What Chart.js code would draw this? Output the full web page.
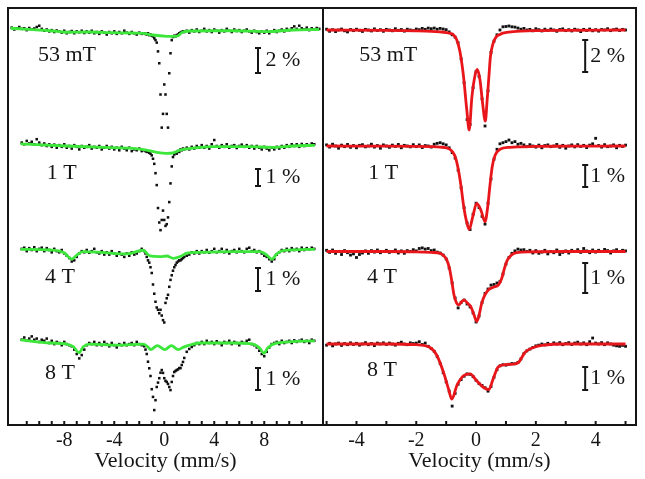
<!DOCTYPE html>
<html lang="en">
<head>
  <meta charset="UTF-8" />
  <title>Mössbauer spectra</title>
  <style>
    body { margin: 0; background: #fff; }
    .wrap { position: relative; width: 645px; height: 479px; }
    .panel { position: absolute; top: 0; height: 479px; }
    #left { left: 0; width: 330px; }
    #right { left: 316px; width: 329px; }
  </style>
  <script src="https://cdn.jsdelivr.net/npm/chart.js"></script>
</head>
<body>
  <div class="wrap">
    <div class="panel" id="left"><canvas id="chartLeft"></canvas></div>
    <div class="panel" id="right"><canvas id="chartRight"></canvas></div>
  </div>
  <script>
    // field labels and scale bars (%)
    const fields = ["53 mT", "1 T", "4 T", "8 T"];
    const barPct = [2, 1, 1, 1];

    // axis ticks
    const ticksL = [-11,-10,-9,-8,-7,-6,-5,-4,-3,-2,-1,0,1,2,3,4,5,6,7,8,9,10,11];
    const labelsL = [-8, -4, 0, 4, 8];
    const ticksR = [-5,-4,-3,-2,-1,0,1,2,3,4,5];
    const labelsR = [-4, -2, 0, 2, 4];

    // ---- left panel: wide velocity range (mm/s), relative transmission (%) ----
    const velL = [
      -12.2,-12,-11.8,-11.6,-11.4,-11.2,-11,-10.8,-10.6,-10.4,-10.2,-10,
      -9.8,-9.6,-9.4,-9.2,-9,-8.8,-8.6,-8.4,-8.2,-8,-7.8,-7.6,
      -7.4,-7.2,-7,-6.8,-6.6,-6.4,-6.2,-6,-5.8,-5.6,-5.4,-5.2,
      -5,-4.8,-4.6,-4.4,-4.2,-4,-3.8,-3.6,-3.4,-3.2,-3,-2.8,
      -2.6,-2.4,-2.2,-2,-1.8,-1.6,
      -1.5,-1.4,-1.3,-1.2,-1.1,-1,-0.9,-0.8,-0.7,-0.6,-0.5,-0.4,-0.3,-0.2,-0.1,0,
      0.1,0.2,0.3,0.4,0.5,0.6,0.7,0.8,0.9,1,1.1,1.2,1.3,1.4,1.5,
      1.6,1.8,2,2.2,2.4,2.6,2.8,3,3.2,3.4,3.6,3.8,
      4,4.2,4.4,4.6,4.8,5,5.2,5.4,5.6,5.8,6,6.2,
      6.4,6.6,6.8,7,7.2,7.4,7.6,7.8,8,8.2,8.4,8.6,
      8.8,9,9.2,9.4,9.6,9.8,10,10.2,10.4,10.6,10.8,11,
      11.2,11.4,11.6,11.8,12,12.2,12.4
    ];
    const l53 = [
      0.15,0,0.1,0.2,0.05,0.1,-0.05,0.12,0,0.08,0.2,0.3,
      0.05,-0.1,0,-0.15,-0.05,-0.2,-0.08,-0.15,-0.25,-0.1,-0.3,-0.2,
      -0.12,-0.3,-0.15,-0.22,-0.1,-0.28,-0.15,-0.25,-0.1,-0.3,-0.2,-0.35,
      -0.15,-0.25,-0.4,-0.2,-0.3,-0.15,-0.35,-0.2,-0.3,-0.1,-0.25,-0.35,
      -0.2,-0.3,-0.4,-0.25,-0.35,-0.3,
      -0.35,-0.4,-0.3,-0.45,-0.4,-0.5,-0.55,-0.7,-0.85,-1.05,-1.75,-2.7,-5.2,-7.85,-6.75,-4.4,
      -5.2,-6.75,-7.85,-3.5,-1.9,-0.85,-0.6,-0.5,-0.55,-0.45,-0.4,-0.3,-0.25,-0.2,-0.15,
      -0.2,-0.1,-0.25,-0.05,-0.15,0,-0.2,-0.1,0.05,-0.15,-0.05,-0.2,
      0,-0.1,-0.25,-0.05,-0.15,0.05,-0.1,-0.2,0,-0.12,-0.05,-0.2,
      -0.1,0,-0.15,-0.25,-0.1,-0.2,-0.3,-0.15,-0.25,-0.1,-0.3,-0.15,
      -0.05,-0.2,-0.1,0,-0.15,0.05,-0.05,0.1,0.25,0.05,0.3,0.1,
      0,0.15,-0.05,0.1,0,0.12,0.05
    ];
    const l1 = [
      null,null,null,null,0.2,0.1,0.3,0.15,0.25,0.1,0.4,0.2,
      0.05,0.15,0,0.1,-0.05,0.08,-0.1,0.05,-0.05,0.1,-0.1,0,
      -0.15,0.05,-0.05,-0.2,0,-0.1,-0.05,0.05,-0.15,-0.05,-0.1,0,
      -0.2,-0.1,0,-0.15,-0.05,-0.2,-0.1,-0.25,-0.05,-0.15,-0.25,-0.1,
      -0.3,-0.2,-0.25,-0.15,-0.3,-0.25,
      -0.3,-0.35,-0.3,-0.4,-0.45,-0.55,-0.75,-1.05,-1.6,-2.3,-3.65,-4.5,-4.95,-4.35,-3.8,-4.35,
      -4.7,-4.6,-4.2,-3.3,-2.2,-1.2,-0.65,-0.5,-0.4,-0.45,-0.3,-0.35,-0.2,-0.25,-0.15,
      -0.2,-0.1,-0.2,-0.05,-0.15,0,-0.1,0.05,-0.1,0,-0.15,0.1,
      0.35,0,-0.1,0.05,-0.05,0.1,-0.1,0,0.05,-0.12,0,0.08,
      -0.05,0.05,-0.1,0,-0.15,0,-0.1,-0.2,-0.05,-0.15,-0.25,-0.1,
      -0.2,-0.05,-0.15,0,-0.1,0.05,-0.05,0.1,0,0.1,-0.05,0.12,
      0,0.1,0.05,0.15,0.1,null,null
    ];
    const l4 = [
      null,null,null,null,0.05,0.1,-0.05,0.08,0,0.12,-0.05,0.05,
      0.1,-0.05,0.08,0,-0.1,0.05,-0.05,-0.1,0,-0.15,-0.25,-0.35,
      -0.5,-0.45,-0.3,-0.15,-0.05,-0.1,0,-0.12,-0.05,0.05,-0.1,-0.15,
      -0.05,-0.2,-0.1,-0.2,-0.05,-0.15,-0.25,-0.1,-0.2,-0.3,-0.15,-0.25,
      -0.1,-0.2,-0.15,-0.05,0.05,-0.05,
      -0.15,-0.3,-0.45,-0.55,-0.75,-1,-1.5,-1.9,-2.25,-2.5,-2.6,-2.75,-2.6,-2.85,-3.05,-3.15,
      -2.3,-2.1,-1.95,-1.6,-1.3,-1.1,-0.9,-0.75,-0.65,-0.55,-0.5,-0.45,-0.45,-0.4,-0.35,
      -0.3,-0.25,-0.2,-0.1,-0.15,-0.05,-0.15,-0.05,-0.1,0,-0.12,-0.05,
      0.05,-0.1,-0.05,0.05,-0.1,0,-0.15,-0.05,0,-0.1,0.05,-0.05,
      -0.1,0.05,0.1,-0.05,0,-0.1,-0.05,-0.15,-0.25,-0.3,-0.4,-0.5,
      -0.4,-0.2,-0.1,0,-0.05,0.05,-0.05,0.08,0,0.05,-0.05,0.1,
      0,0.08,0.03,0.1,0.05,null,null
    ];
    const l8 = [
      null,null,null,null,0.15,0.25,0.1,0.2,0.3,0.15,0.2,0.05,
      0.15,0.1,0.2,0,0.1,-0.05,0.05,0,-0.1,0.05,-0.05,-0.1,
      -0.15,-0.3,-0.5,-0.7,-0.55,-0.3,-0.1,0,-0.05,0.05,-0.1,0,
      -0.1,0.05,-0.05,-0.15,0,-0.1,-0.2,-0.05,-0.1,0,-0.1,-0.05,
      0,-0.1,0.05,-0.05,-0.1,-0.15,
      -0.3,-0.5,-0.85,-1.15,-1.5,-2.1,-2.45,-3.05,-2.6,-2,-1.8,-1.6,-1.35,-1.23,-1.36,-1.6,
      -1.72,-1.77,-1.86,-2,-2.14,-1.77,-1.5,-1.32,-1.27,-1.23,-1.2,-1.14,-1.14,-1,-0.86,
      -0.68,-0.4,-0.27,-0.18,-0.1,0,-0.05,0.05,-0.05,0.1,0,0.05,
      -0.05,0.08,0,-0.1,0.05,0,0.1,-0.05,0.05,0,-0.1,0.05,
      0,0.1,0.15,-0.05,-0.1,-0.2,-0.35,-0.5,-0.6,-0.4,-0.2,-0.05,
      0,0.05,-0.05,0.1,0,0.05,0.1,0,0.12,0.05,0.1,0.15,
      0.05,0.1,0,0.15,0.1,null,null
    ];
    // green component lines (left)
    const g53X = [-12.3,-9.1,-7.8,-6,-4.3,-2.5,-1.7,-0.9,-0.1,0.4,0.75,1.1,1.4,2.1,3.9,5.5,8.2,10.3,12.4];
    const g53Y = [0.1,-0.1,-0.22,-0.2,-0.25,-0.28,-0.31,-0.44,-0.52,-0.55,-0.55,-0.5,-0.25,-0.12,-0.1,-0.1,-0.17,-0.04,0];
    const g1X = [-11.5,-7.8,-4.3,-2.5,-1.4,-0.6,0.2,0.7,1.25,2.1,3.9,6.9,8.7,10.3,12.05];
    const g1Y = [0.12,0,-0.1,-0.14,-0.24,-0.37,-0.43,-0.4,-0.24,-0.14,-0.04,-0.04,-0.08,0,0.04];
    const g4X = [-11.5,-9.1,-7.95,-7.7,-7.4,-7,-6.5,-5.1,-3,-1.7,-1.14,-0.34,0.2,0.73,1.26,1.8,2.85,5.5,7.65,8.2,8.6,9,9.5,12.05];
    const g4Y = [0.03,0,-0.14,-0.28,-0.4,-0.22,-0.07,-0.1,-0.17,-0.01,-0.26,-0.29,-0.26,-0.36,-0.29,-0.14,-0.1,-0.07,-0.07,-0.22,-0.4,-0.17,-0.03,0.03];
    const g8X = [-11.5,-9.1,-7.8,-7.27,-6.82,-6.48,-5.95,-3.8,-1.67,-1.27,-1.1,-0.55,0.05,0.57,1.12,1.5,2,2.85,5.5,7.1,7.65,7.97,8.3,9,12.05];
    const g8Y = [0.14,0,-0.05,-0.17,-0.44,-0.17,-0.05,-0.1,-0.05,-0.2,-0.3,-0.12,-0.3,-0.12,-0.3,-0.2,-0.1,0,0,-0.05,-0.24,-0.47,-0.2,0,0.1];

    // ---- right panel: narrow velocity range ----
    const velR = [
      -5,-4.9,-4.8,-4.7,-4.6,-4.5,-4.4,-4.3,-4.2,-4.1,
      -4,-3.9,-3.8,-3.7,-3.6,-3.5,-3.4,-3.3,-3.2,-3.1,
      -3,-2.9,-2.8,-2.7,-2.6,-2.5,-2.4,-2.3,-2.2,-2.1,
      -2,-1.9,-1.8,-1.7,-1.6,-1.5,-1.4,-1.3,-1.2,-1.1,
      -1,-0.9,-0.8,-0.7,-0.6,-0.5,-0.4,-0.3,-0.2,-0.1,
      0,0.1,0.2,0.3,0.4,0.5,0.6,0.7,0.8,0.9,
      1,1.1,1.2,1.3,1.4,1.5,1.6,1.7,1.8,1.9,
      2,2.1,2.2,2.3,2.4,2.5,2.6,2.7,2.8,2.9,
      3,3.1,3.2,3.3,3.4,3.5,3.6,3.7,3.8,3.9,
      4,4.1,4.2,4.3,4.4,4.5,4.6,4.7,4.8,4.9,
      5
    ];
    const r53 = [
      0.05,-0.08,0.02,-0.1,0,0.06,-0.05,-0.12,0.03,-0.04,
      0.05,-0.02,-0.09,0.04,0,-0.06,0.07,-0.03,0.02,-0.08,
      0.04,0,-0.05,0.08,-0.02,0.03,-0.07,0.05,0,-0.04,
      0.06,0.02,0.1,0.04,0.12,0.08,0.12,0.05,0.1,0.06,
      0.02,-0.12,-0.3,-0.45,-0.8,-1.8,-3.3,-5.6,-5.9,-3.6,
      -2.6,-2.9,-4.3,-6,-3.8,-1.4,-0.7,-0.3,0,0.2,
      0.22,0.25,0.2,0.18,0.12,0.05,0.1,0,0.04,-0.05,
      0.08,0.02,-0.06,0.05,-0.02,0.06,0,-0.08,0.03,0.07,
      -0.04,0.02,-0.06,0.05,0,-0.1,0.04,-0.03,0.06,-0.05,
      0.02,-0.07,0.03,0,0.08,-0.04,0.02,0.06,-0.03,0.04,
      0
    ];
    const r1 = [
      0.05,-0.05,0.08,0,-0.1,0.04,-0.03,0.07,-0.06,0.02,
      -0.08,0.03,0.06,-0.04,0,0.08,-0.05,0.02,-0.1,0.05,
      0,-0.06,0.04,-0.02,0.07,-0.08,0.03,0,-0.04,0.06,
      -0.03,0.05,-0.07,0.02,0,-0.05,0.08,0.12,0.15,0.1,
      0.05,-0.08,-0.3,-0.55,-1.1,-1.9,-2.8,-3.5,-3.8,-3.1,
      -2.6,-2.8,-3.2,-3.55,-2.6,-1.5,-0.6,-0.15,0.1,0.15,
      0.2,0.27,0.15,0.2,0.08,0.12,0.05,-0.03,0.06,0,
      -0.05,0.04,-0.08,0.02,0.05,-0.03,0,0.07,-0.06,0.03,
      -0.1,0,0.05,-0.04,0.06,-0.02,0.03,-0.07,0.04,0.1,
      0.35,0.02,-0.05,0.06,-0.03,0,0.05,-0.08,0.03,-0.02,
      0.04
    ];
    const r4 = [
      0.04,-0.03,0.05,-0.06,0,-0.1,0.03,-0.04,-0.12,-0.08,
      -0.2,-0.1,-0.05,0.02,-0.06,0.03,-0.02,0.05,-0.04,0,
      0.04,-0.03,0,0.05,-0.05,0.02,-0.06,0.03,0,0.06,
      0.02,0.1,0.12,0.08,0.1,0.03,0.05,-0.02,-0.05,-0.12,
      -0.25,-0.55,-1.05,-1.55,-1.88,-1.7,-1.62,-1.75,-1.85,-2.05,
      -2.35,-2.15,-1.7,-1.4,-1.25,-1.12,-1.1,-1.05,-1,-0.75,
      -0.42,-0.2,-0.06,0.02,0.08,0.05,0.06,0,0.04,-0.05,
      0.03,-0.06,-0.02,0.04,-0.08,0,-0.04,0.05,-0.1,-0.03,
      0.02,-0.05,0.04,0,0.06,-0.03,0.1,0.02,-0.04,0.05,
      -0.02,0.04,0,0.07,0.03,-0.05,0.02,0.06,0,0.04,
      0.02
    ];
    const r8 = [
      -0.05,0.03,-0.08,0,0.04,-0.06,0.02,-0.03,0.05,-0.02,
      0.03,-0.05,0,0.06,-0.03,0.02,-0.07,0.04,0,0.05,
      -0.02,0.04,0,-0.05,0.03,0.08,0,-0.03,0.05,0.02,
      0.04,0.1,-0.02,0.04,-0.1,-0.2,-0.32,-0.55,-0.85,-1.25,
      -1.65,-2.05,-2.7,-2.15,-1.75,-1.55,-1.4,-1.3,-1.32,-1.42,
      -1.58,-1.72,-1.8,-1.9,-2.05,-1.85,-1.45,-1.12,-0.95,-0.9,
      -0.92,-0.88,-0.85,-0.86,-0.8,-0.65,-0.42,-0.3,-0.22,-0.15,
      -0.08,-0.05,0,-0.04,0.03,-0.02,0.05,0,0.06,-0.03,
      0.02,0.06,-0.02,0.04,0.08,0,0.05,-0.03,0.1,0.26,
      0.04,0,0.06,-0.03,0.05,0,-0.05,-0.08,-0.1,-0.06,
      -0.1
    ];
    // red fits (right)
    const f53X = [-5,-3,-2,-1.5,-1.2,-1,-0.85,-0.76,-0.65,-0.54,-0.42,-0.31,-0.23,-0.14,-0.03,0.04,0.13,0.22,0.31,0.37,0.43,0.48,0.57,0.68,0.8,0.9,1.1,1.5,2,3,5];
    const f53Y = [0,-0.02,-0.05,-0.08,-0.12,-0.16,-0.22,-0.3,-0.6,-1.35,-2.9,-5,-6.25,-4.2,-2.8,-2.46,-3.1,-4.6,-5.7,-4.4,-2.9,-1.67,-0.83,-0.42,-0.28,-0.2,-0.13,-0.07,-0.04,-0.02,0];
    const f1X = [-5,-3,-2,-1.5,-1.2,-0.87,-0.7,-0.59,-0.5,-0.42,-0.33,-0.23,-0.11,0.02,0.16,0.3,0.39,0.46,0.54,0.64,0.8,1.14,1.5,2,3,5];
    const f1Y = [0,-0.01,-0.02,-0.03,-0.05,-0.15,-0.48,-1.09,-1.85,-2.68,-3.36,-3.79,-3.21,-2.61,-2.91,-3.44,-2.76,-1.85,-0.94,-0.41,-0.15,-0.06,-0.04,-0.02,-0.01,0];
    const f4X = [-5,-3,-2,-1.5,-1.2,-1.09,-0.98,-0.89,-0.81,-0.74,-0.65,-0.57,-0.48,-0.4,-0.29,-0.18,-0.07,0.02,0.09,0.19,0.3,0.41,0.58,0.75,0.86,0.95,1.05,1.19,1.36,1.81,3,5];
    const f4Y = [0,0,-0.01,-0.03,-0.06,-0.13,-0.28,-0.56,-1,-1.44,-1.72,-1.78,-1.67,-1.61,-1.72,-1.83,-2.11,-2.33,-2.17,-1.72,-1.44,-1.28,-1.19,-1.11,-0.89,-0.56,-0.28,-0.11,-0.04,-0.01,0,0];
    const f8X = [-5,-3,-2,-1.54,-1.31,-1.09,-0.92,-0.81,-0.64,-0.42,-0.2,0.02,0.24,0.43,0.57,0.74,0.97,1.25,1.42,1.64,1.92,2.25,3,5];
    const f8Y = [0,0,-0.03,-0.15,-0.5,-1.23,-1.96,-2.4,-1.8,-1.38,-1.3,-1.6,-1.88,-1.98,-1.52,-1,-0.9,-0.87,-0.8,-0.36,-0.15,-0.05,0,0];

    // layout of the stacked spectra (y axis runs downward in stack units)
    const left = {
      vel: velL, spectra: [l53, l1, l4, l8],
      fitX: [g53X, g1X, g4X, g8X], fitY: [g53Y, g1Y, g4Y, g8Y], fitColor: "#3ce63a",
      base: [21.5, 138, 242, 335], gain: [12.5, 17, 23, 22],
      barTop: [40, 161, 260, 360], barX: 7.5, barTextX: 8.1,
      nameX: [-10.1, -9.4, -9.55, -9.55], nameY: [47, 165, 269, 365],
      xMin: -12.5, xMax: 12.7, ticks: ticksL, tickLabels: labelsL,
      pad: { left: 8, right: 7, top: 8, bottom: 0 }, pointRadius: 1.8
    };
    const right = {
      vel: velR, spectra: [r53, r1, r4, r8],
      fitX: [f53X, f1X, f4X, f8X], fitY: [f53Y, f1Y, f4Y, f8Y], fitColor: "#e8161b",
      base: [22, 138, 243.5, 336], gain: [16, 22, 30, 23],
      barTop: [32, 157, 255, 359], barX: 3.65, barTextX: 3.82,
      nameX: [-3.91, -3.61, -3.65, -3.65], nameY: [47, 165, 269, 362],
      xMin: -5.12, xMax: 5.35, ticks: ticksR, tickLabels: labelsR,
      pad: { left: 7, right: 9, top: 8, bottom: 0 }, pointRadius: 2
    };

    const serif = "'Liberation Serif', 'Times New Roman', serif";

    function makeChart(canvasId, p) {
      const datasets = [];
      p.spectra.forEach((vals, k) => {
        const pts = [];
        p.vel.forEach((v, i) => {
          if (vals[i] !== null) pts.push({ x: v, y: p.base[k] - vals[i] * p.gain[k] });
        });
        datasets.push({
          data: pts, showLine: false, pointStyle: "rect",
          pointRadius: p.pointRadius, pointBorderWidth: 0,
          pointBackgroundColor: "#111", order: 1
        });
        const fit = p.fitX[k].map((v, i) => ({ x: v, y: p.base[k] - p.fitY[k][i] * p.gain[k] }));
        datasets.push({
          data: fit, showLine: true, borderColor: p.fitColor, borderWidth: 2.8,
          pointRadius: 0, cubicInterpolationMode: "monotone", order: 0
        });
      });

      const decorations = {
        id: "decorations",
        afterDatasetsDraw(chart) {
          const { ctx, chartArea: a } = chart;
          const xs = chart.scales.x, ys = chart.scales.y;
          ctx.save();
          ctx.strokeStyle = "#151515";
          ctx.fillStyle = "#151515";
          ctx.lineWidth = 2;
          ctx.strokeRect(a.left, a.top, a.right - a.left, a.bottom - a.top);
          // inward tick marks
          p.ticks.forEach(v => {
            const x = xs.getPixelForValue(v);
            ctx.beginPath();
            ctx.moveTo(x, a.bottom);
            ctx.lineTo(x, a.bottom - 4);
            ctx.stroke();
          });
          ctx.font = "22px " + serif;
          ctx.textBaseline = "middle";
          ctx.textAlign = "left";
          fields.forEach((name, k) => {
            ctx.fillText(name, xs.getPixelForValue(p.nameX[k]), ys.getPixelForValue(p.nameY[k]));
            // scale bar
            const bx = xs.getPixelForValue(p.barX);
            const y1 = ys.getPixelForValue(p.barTop[k]);
            const y2 = ys.getPixelForValue(p.barTop[k] + barPct[k] * p.gain[k]);
            ctx.beginPath();
            ctx.moveTo(bx, y1); ctx.lineTo(bx, y2);
            ctx.moveTo(bx - 3, y1); ctx.lineTo(bx + 3, y1);
            ctx.moveTo(bx - 3, y2); ctx.lineTo(bx + 3, y2);
            ctx.stroke();
            ctx.fillText(barPct[k] + " %", xs.getPixelForValue(p.barTextX), (y1 + y2) / 2);
          });
          ctx.restore();
        }
      };

      return new Chart(document.getElementById(canvasId), {
        type: "scatter",
        data: { datasets },
        options: {
          responsive: true,
          maintainAspectRatio: false,
          animation: false,
          events: [],
          layout: { padding: p.pad },
          plugins: { legend: { display: false }, tooltip: { enabled: false } },
          scales: {
            x: {
              type: "linear", min: p.xMin, max: p.xMax,
              afterBuildTicks: s => { s.ticks = p.ticks.map(v => ({ value: v })); },
              afterFit: s => { s.height = 54; },
              grid: { display: false, drawTicks: false },
              border: { display: false },
              ticks: {
                autoSkip: false, maxRotation: 0, padding: 4, color: "#151515",
                font: { family: serif, size: 20 },
                callback: v => (p.tickLabels.includes(v) ? String(v) : "")
              },
              title: {
                display: true, text: "Velocity (mm/s)", color: "#151515",
                font: { family: serif, size: 22 }, padding: { top: 0, bottom: 5 }
              }
            },
            y: { type: "linear", display: false, reverse: true, min: 0, max: 417 }
          }
        },
        plugins: [decorations]
      });
    }

    makeChart("chartLeft", left);
    makeChart("chartRight", right);
  </script>
</body>
</html>
